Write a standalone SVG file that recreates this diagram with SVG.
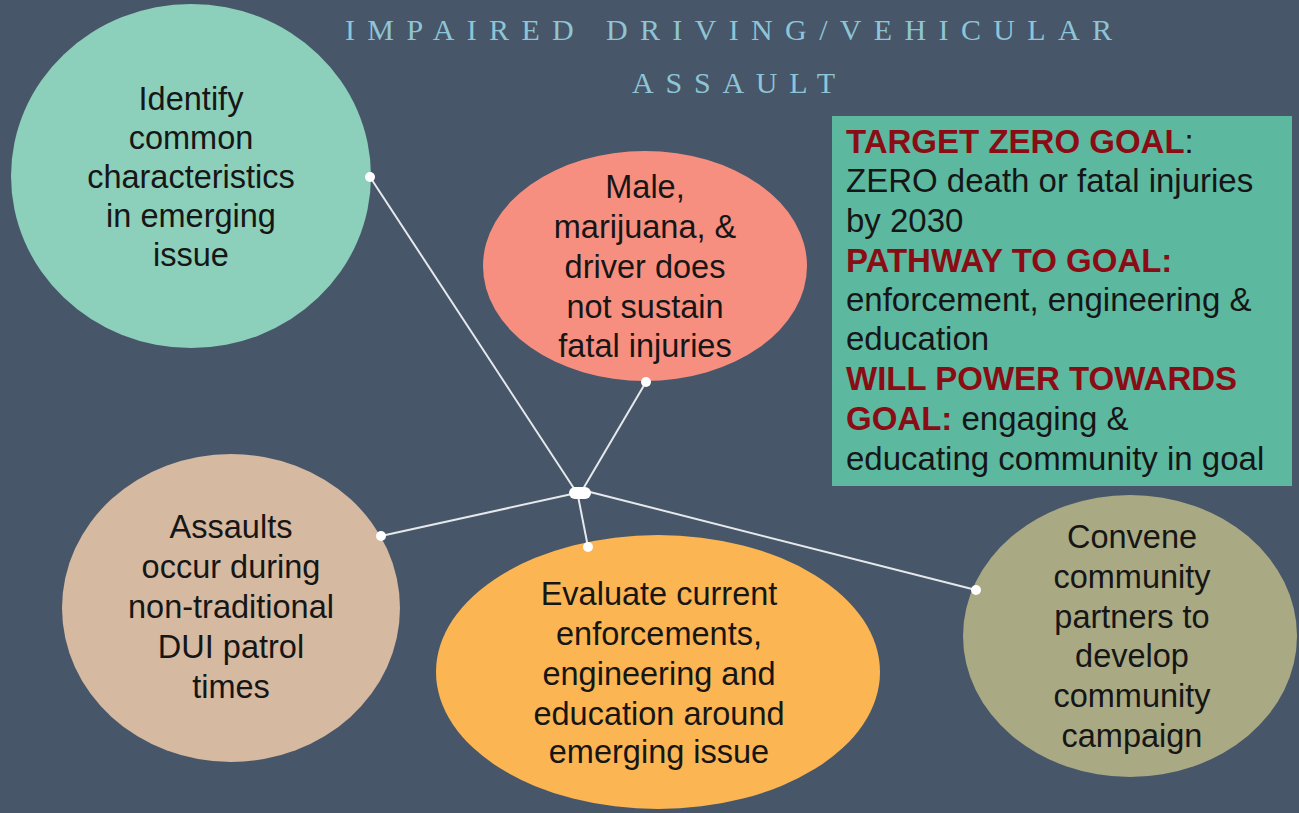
<svg xmlns="http://www.w3.org/2000/svg" width="1299" height="813" viewBox="0 0 1299 813">
<style>
.bg{fill:#475669}
.lbl{font-family:"Liberation Sans",Arial,sans-serif;font-size:32.5px;fill:#161616;text-anchor:middle}
.title{font-family:"Liberation Serif","Times New Roman",serif;font-size:30px;fill:#8ec5d6}
.box{font-family:"Liberation Sans",Arial,sans-serif;font-size:33px;fill:#161616}
.red{font-weight:bold;fill:#8a0c14}
.conn line{stroke:#e6e9ec;stroke-width:2}
.dot{fill:#ffffff}
</style>
<rect class="bg" x="0" y="0" width="1299" height="813"/>
<g id="title">
<text class="title" x="345" y="40" textLength="767" lengthAdjust="spacing">IMPAIRED DRIVING/VEHICULAR</text>
<text class="title" x="632" y="93" textLength="203" lengthAdjust="spacing">ASSAULT</text>
</g>
<g id="connectors" class="conn">
<line x1="370" y1="177" x2="575" y2="490"/>
<line x1="646" y1="382" x2="583" y2="489"/>
<line x1="381" y1="536" x2="572" y2="494"/>
<line x1="588" y1="547" x2="578" y2="496"/>
<line x1="976" y1="590" x2="590" y2="492"/>
<rect class="dot" x="569" y="487" width="22" height="12" rx="6"/>
</g>
<g id="node-identify">
<ellipse cx="191" cy="176" rx="180" ry="172" fill="#8ccfba"/>
<text class="lbl" x="191" y="110">Identify</text>
<text class="lbl" x="191" y="149">common</text>
<text class="lbl" x="191" y="188">characteristics</text>
<text class="lbl" x="191" y="227">in emerging</text>
<text class="lbl" x="191" y="266">issue</text>
<circle class="dot" cx="370" cy="177" r="5"/>
</g>
<g id="node-male">
<ellipse cx="645" cy="266" rx="162" ry="115" fill="#f78f80"/>
<text class="lbl" x="645" y="198">Male,</text>
<text class="lbl" x="645" y="238">marijuana, &amp;</text>
<text class="lbl" x="645" y="278">driver does</text>
<text class="lbl" x="645" y="318">not sustain</text>
<text class="lbl" x="645" y="357">fatal injuries</text>
<circle class="dot" cx="646" cy="382" r="5"/>
</g>
<g id="node-assaults">
<ellipse cx="231" cy="608" rx="169" ry="154" fill="#d5b9a0"/>
<text class="lbl" x="231" y="538">Assaults</text>
<text class="lbl" x="231" y="578">occur during</text>
<text class="lbl" x="231" y="618">non-traditional</text>
<text class="lbl" x="231" y="658">DUI patrol</text>
<text class="lbl" x="231" y="698">times</text>
<circle class="dot" cx="381" cy="536" r="5"/>
</g>
<g id="node-evaluate">
<ellipse cx="658" cy="672" rx="222" ry="137" fill="#fbb553"/>
<text class="lbl" x="659" y="605">Evaluate current</text>
<text class="lbl" x="659" y="645">enforcements,</text>
<text class="lbl" x="659" y="685">engineering and</text>
<text class="lbl" x="659" y="725">education around</text>
<text class="lbl" x="659" y="763">emerging issue</text>
<circle class="dot" cx="588" cy="547" r="5"/>
</g>
<g id="node-convene">
<ellipse cx="1130" cy="636" rx="167" ry="141" fill="#a9a983"/>
<text class="lbl" x="1132" y="548">Convene</text>
<text class="lbl" x="1132" y="588">community</text>
<text class="lbl" x="1132" y="628">partners to</text>
<text class="lbl" x="1132" y="667">develop</text>
<text class="lbl" x="1132" y="707">community</text>
<text class="lbl" x="1132" y="747">campaign</text>
<circle class="dot" cx="976" cy="590" r="5"/>
</g>
<g id="node-goal">
<rect x="832" y="116" width="460" height="370" fill="#5db8a0"/>
<text class="box" x="846" y="153"><tspan class="red">TARGET ZERO GOAL</tspan>:</text>
<text class="box" x="846" y="192">ZERO death or fatal injuries</text>
<text class="box" x="846" y="232">by 2030</text>
<text class="box red" x="846" y="272">PATHWAY TO GOAL:</text>
<text class="box" x="846" y="311">enforcement, engineering &amp;</text>
<text class="box" x="846" y="350">education</text>
<text class="box red" x="846" y="390">WILL POWER TOWARDS</text>
<text class="box" x="846" y="430"><tspan class="red">GOAL:</tspan> engaging &amp;</text>
<text class="box" x="846" y="470">educating community in goal</text>
</g>
</svg>
